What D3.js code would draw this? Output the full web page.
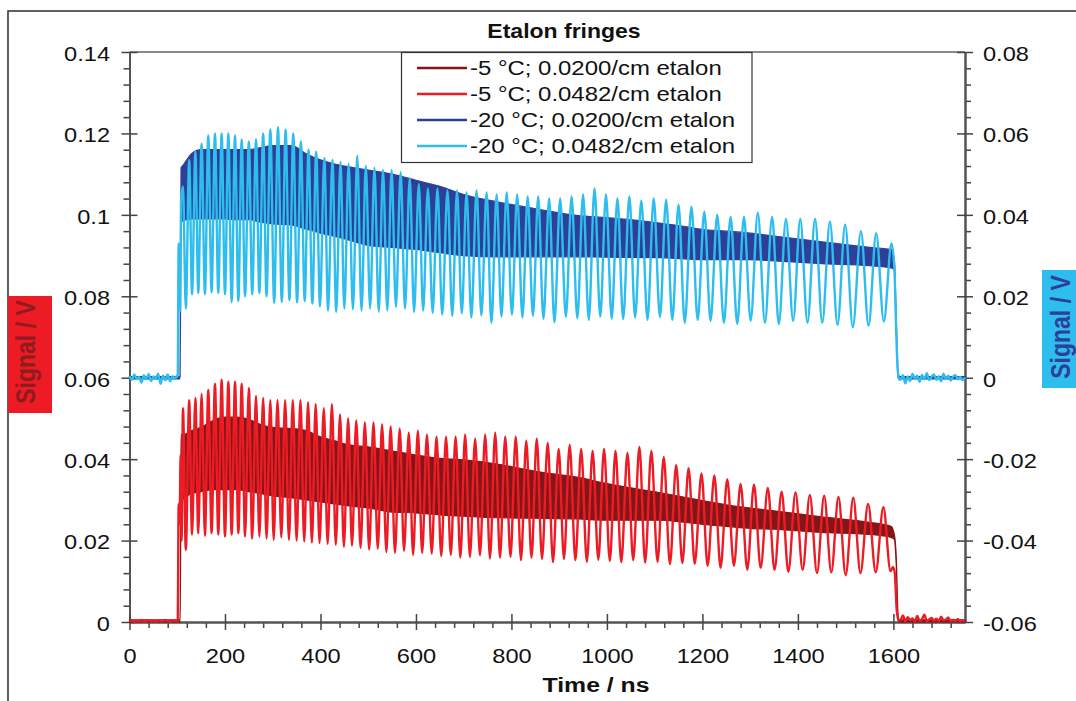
<!DOCTYPE html>
<html>
<head>
<meta charset="utf-8">
<title>Etalon fringes</title>
<script src="https://cdn.jsdelivr.net/npm/d3@7"></script>
<style>
  body { margin: 0; background: #fff; }
  svg { display: block; font-family: "Liberation Sans", Arial, sans-serif; }
</style>
</head>
<body>
<div id="chart"></div>
<script>
// ---------------------------------------------------------------------------
// data, all signals in mV (red series on the left axis, blue on the right)
// ---------------------------------------------------------------------------

// baseline before the pulse and after it
var tPre  = [0,5,10,15,20,25,30,35,40,45,50,55,60,65,70,75,80,85,90,95,100]
var tPost = [1615,1620,1625,1630,1635,1640,1645,1650,1655,1660,1665,1670,1675,1680,
             1685,1690,1695,1700,1705,1710,1715,1720,1725,1730,1735,1740,1745,1750]
var lightBluePre  = [0.4,-0.5,0.8,-0.3,0.2,-1.2,0.6,-0.4,0.9,-0.8,0.3,-0.2,1,-1.5,0.5,-0.6,0.8,-0.9,0.4,-0.3,0.6]
var lightRedPre   = [0.2,0.4,0.1,0.3,0.2,0.5,0.1,0.3,0.4,0.2,0.3,0.1,0.4,0.2,0.3,0.5,0.2,0.1,0.4,0.3,0.2]
var lightBluePost = [-0.5,0.6,-1.4,0.3,-0.8,0.9,-0.2,0.5,-1,0.7,-0.4,1.1,-0.6,0.2,0.8,-0.5,0.4,-0.9,1,-0.3,
                     0.5,-0.7,0.3,0.6,-0.4,0.2,-0.6,0.1]
var lightRedPost  = [0.5,1.6,0.2,1.2,0.4,0.9,0.1,1.5,0.3,0.7,1.8,0.2,0.6,1,0.3,0.8,0.2,1.3,0.4,0.6,
                     1.1,0.2,0.5,0.3,0.7,0.2,0.4,0.1]

// leading and trailing edges of the 0.0482/cm traces
var tRiseBlue = [101,103,106,108],        lightBlueRise = [0.3,33,16.5,43.5]
var tFallBlue = [1602,1606,1609,1612],    lightBlueFall = [27,11,2,-0.3]
var tRiseRed  = [101,103,105,107,109],    lightRedRise  = [0.3,29,24,41,20]
var tFallRed  = [1594,1599,1603,1607,1611], lightRedFall = [12.5,13.5,12,3,0.4]

// fringe maxima / minima of the -20 °C, 0.0482/cm trace
var tPeakBlue = [112,125,138,151,165,179,193,207,221,235,250,265,280,295,311,327,343,359,375,391,
  408,425,442,459,477,495,513,531,549,568,587,606,625,645,666,686,706,727,748,769,
  790,812,834,856,879,902,926,950,974,998,1022,1047,1072,1098,1124,1150,1177,1204,1231,1259,
  1287,1316,1346,1375,1405,1436,1467,1499,1532,1564,1596]
var tTroughBlue = [118,131,144,158,172,186,200,214,228,242,257,272,287,303,319,335,351,367,383,399,
  416,433,450,468,486,504,522,540,558,577,596,615,635,655,676,696,716,737,758,779,
  801,823,845,867,890,914,938,962,986,1010,1034,1059,1085,1111,1137,1163,1190,1217,1245,1273,
  1301,1331,1360,1390,1420,1451,1483,1515,1548,1580]
var lightBluePeaks = [47,53.5,55.5,57.5,59.5,60,60,60,59.5,58.5,58,58.5,60,61,61.5,61,60,58,56,55.5,
  54,53.5,53,52.5,54.5,52,51.5,51,51,50.5,49,47.5,46.5,46.5,46,46,45.5,46,45.5,45,
  45.5,45,44.5,44.5,44,44,44.5,45,46.5,45,44,44.5,43.5,44,43.7,42.5,42,40.8,40,39.5,
  39.5,40.5,39.5,39,39,39,38.3,37.6,36,35.5,33]
var lightBlueTroughs = [17,20.5,20.8,20.5,21,20.8,20.5,18.6,18.8,20,20.5,20.8,20,18.4,18.6,19,18.5,18.8,18.2,17.5,
  16.5,16.2,17,16.8,16.5,17,16.2,16.5,17.4,17,16.2,16.5,15.9,15.5,15.2,15.8,14.8,15.3,13.5,15,
  15.5,14.8,15.2,14.5,13.6,15,14.6,14.2,15,14.5,14.4,14.8,14.2,14.9,14.2,13.5,14.2,14,13.5,13.2,
  14,13.5,13.2,14,13.5,13.5,13,12.4,12.8,13.8]

// fringe maxima / minima of the -5 °C, 0.0482/cm trace
var tPeakRed = [112,125,138,151,165,179,193,207,221,235,250,265,280,295,310,326,342,358,374,390,
  407,424,441,458,475,493,511,529,547,566,585,604,623,643,663,683,703,724,745,766,
  787,809,831,853,876,899,922,946,970,994,1018,1043,1068,1093,1119,1145,1171,1198,1225,1252,
  1280,1308,1337,1366,1395,1425,1455,1485,1516,1547,1579]
var tTroughRed = [118,131,144,158,172,186,200,214,228,242,257,272,287,302,318,334,350,366,382,398,
  415,432,449,466,484,502,520,538,556,575,594,613,633,653,673,693,713,734,755,776,
  798,820,842,864,887,910,934,958,982,1006,1030,1055,1080,1106,1132,1158,1184,1211,1238,1266,
  1294,1322,1351,1380,1410,1440,1470,1500,1531,1563]
var lightRedPeaks = [52.5,54.5,55,56,57,58.5,59.5,59,59,58.5,57.5,55.5,55,54.5,54.5,54.5,54.5,54.5,54,53.5,
  52.5,53.5,51,50,49.5,49,49,48.5,48,47.5,46.5,47,46,45.5,45.5,45.5,46,45,46,46.5,
  45.5,45.5,44.5,45,44,42.5,43.5,42.5,42,42.5,42,41.5,43,42,40.5,38.5,37.8,36.5,36,35.1,
  33.9,33.8,32.9,32,31.8,31.2,31,30.7,30.5,29,28.2]
var lightRedTroughs = [17.7,21.5,21.8,21.2,21.8,21.5,21,21.5,21.8,21,20.5,21,20.5,20.2,20.8,20.2,20,19.8,19.5,19.4,
  19.2,19,18.5,18.8,18.2,17.8,18,17.2,17,17.5,16.5,17,16.8,16.2,16.5,15.8,16,16.4,15.6,15.8,
  16,15.2,15.8,15.5,14.7,15.5,15.2,14.8,15.3,15,14.7,15.2,14.6,14.8,14.2,14.5,14.3,13.8,13.3,13.8,
  12.8,13.3,12.8,12.3,12.8,12,12.2,11.5,12,12.2]

// 0.0200/cm traces: fringes too fine to resolve, kept as upper / lower envelope
var tEnv = [0,106,108,111,130,150,175,200,225,250,275,300,340,370,400,430,460,500,550,600,
  650,700,770,850,940,1000,1110,1160,1200,1250,1300,1350,1450,1550,1595,1602,1606,1610,1613,1750]
var darkRedUpper = [0.5,0.5,46,46,47,47.8,49.5,50.3,50.3,49.8,48.5,47.8,47.5,47,45.5,44.5,43.5,43,42,41,
  40.2,39.8,38.8,37,35.5,34,31.8,30.7,29.8,28.8,28,27.3,25.8,24.5,23.5,21.5,16,1.5,0.5,0.5]
var darkRedLower = [0,0,29,30,31.5,32,32.5,32.5,32.5,32,31.5,31,30.5,30,29.5,29,28.5,28,27,26.8,
  26.3,26,25.6,25.5,25.3,25,25,24.5,24,23.5,23,22.8,22,21.5,20.8,20.3,14,0.3,0,0]
var darkBlueUpper = [0.3,0.3,51.6,52,55,56,56,56,56,56,56.5,57,57,55,53.5,52.5,51.8,51,50,48.5,
  47,45,43.2,41.5,39.8,39.3,38,37.2,36.4,36,35.5,34.8,33.4,32,31.5,29,15,1,0.3,0.3]
var darkBlueLower = [-0.3,-0.3,38,38.5,39,39,39,39,38.8,38.8,38.2,37.8,37.5,36.5,35.5,34.7,33.8,32.5,32,31.5,
  30.7,30,29.7,29.7,29.7,29.6,29.5,29.2,29,29,29,28.7,28,27.5,27,26.5,12,0,-0.3,-0.3]

// axes
var xTicks = [0,200,400,600,800,1000,1200,1400,1600]
var xLabels = ['0','200','400','600','800','1000','1200','1400','1600']
var yLeftTicks = [0,0.02,0.04,0.06,0.08,0.1,0.12,0.14]
var yLeftLabels = ['0','0.02','0.04','0.06','0.08','0.1','0.12','0.14']
var yRightTicks = [-0.06,-0.04,-0.02,0,0.02,0.04,0.06,0.08]
var yRightLabels = ['-0.06','-0.04','-0.02','0','0.02','0.04','0.06','0.08']

var legendLabels = ['-5 °C; 0.0200/cm etalon','-5 °C; 0.0482/cm etalon',
                    '-20 °C; 0.0200/cm etalon','-20 °C; 0.0482/cm etalon']
var colors = ['#821618','#ed1c24','#2e3f97','#2dbdee']

// ---------------------------------------------------------------------------
var W = 1076, H = 701
var SX = 1.18   // reference text is drawn a bit wide

var x  = d3.scaleLinear().domain([0, 1750]).range([129.5, 965])
var yL = d3.scaleLinear().domain([0, 0.14]).range([622, 52])
var yR = d3.scaleLinear().domain([-0.06, 0.08]).range([622, 52])

var svg = d3.select('#chart').append('svg')
  .attr('width', W).attr('height', H)

svg.append('rect').attr('width', W).attr('height', H).attr('fill', '#fff')

//outer frame, cut off at right and bottom
svg.append('rect')
  .attr('x', 8).attr('y', 11).attr('width', 1200).attr('height', 900)
  .attr('fill', 'none').attr('stroke', '#3a3a3a').attr('stroke-width', 1.6)

//top edge of the plot box
svg.append('line')
  .attr('x1', 129.5).attr('x2', 965).attr('y1', 52).attr('y2', 52)
  .attr('stroke', '#8a8a8a').attr('stroke-width', 2)

function wideText(g, tx, ty, str, size, weight, anchor){
  return g.append('text')
    .attr('transform', 'translate(' + tx + ',' + ty + ') scale(' + SX + ',1)')
    .attr('text-anchor', anchor || 'start')
    .attr('font-size', size)
    .attr('font-weight', weight || 'normal')
    .attr('fill', '#111')
    .text(str)
}

function styleAxis(g){
  g.attr('font-family', null).attr('font-size', null)
  g.select('.domain').attr('stroke', '#555').attr('stroke-width', 2)
  g.selectAll('.tick line').attr('stroke', '#444').attr('stroke-width', 1.5)
  g.selectAll('.tick text').attr('font-size', 20).attr('fill', '#111')
}

function isMinor(v, step){
  var r = v / step
  return Math.abs(r - Math.round(r)) > 1e-6
}

//minor ticks
var minorL = d3.range(0.004, 0.14, 0.004).filter(function(v){ return isMinor(v, 0.02) })
var minorR = d3.range(-0.056, 0.08, 0.004).filter(function(v){ return isMinor(v, 0.02) })
var minorX = d3.range(40, 1750, 40).filter(function(v){ return isMinor(v, 200) })

svg.append('g').attr('transform', 'translate(129.5,0)')
  .call(d3.axisLeft(yL).tickValues(minorL).tickSize(6).tickSizeOuter(0).tickFormat(''))
  .call(styleAxis)
svg.append('g').attr('transform', 'translate(965,0)')
  .call(d3.axisRight(yR).tickValues(minorR).tickSize(6).tickSizeOuter(0).tickFormat(''))
  .call(styleAxis)
svg.append('g').attr('transform', 'translate(0,622)')
  .call(d3.axisBottom(x).tickValues(minorX).tickSize(6).tickSizeOuter(0).tickFormat(''))
  .call(styleAxis)

//major ticks, crossing the axis line
var gL = svg.append('g').attr('transform', 'translate(129.5,0)')
  .call(d3.axisLeft(yL).tickValues(yLeftTicks).tickSize(8).tickSizeOuter(0)
    .tickFormat(function(d, i){ return yLeftLabels[i] }))
  .call(styleAxis)
gL.selectAll('.tick line').attr('x1', 8)
gL.selectAll('.tick text').attr('x', null).attr('dy', '0.42em')
  .attr('transform', 'translate(-19.5,0) scale(' + SX + ',1)')

var gR = svg.append('g').attr('transform', 'translate(965,0)')
  .call(d3.axisRight(yR).tickValues(yRightTicks).tickSize(8).tickSizeOuter(0)
    .tickFormat(function(d, i){ return yRightLabels[i] }))
  .call(styleAxis)
gR.selectAll('.tick line').attr('x1', -8)
gR.selectAll('.tick text').attr('x', null).attr('dy', '0.42em')
  .attr('transform', 'translate(18,0) scale(' + SX + ',1)')

var gB = svg.append('g').attr('transform', 'translate(0,622)')
  .call(d3.axisBottom(x).tickValues(xTicks).tickSize(8).tickSizeOuter(0)
    .tickFormat(function(d, i){ return xLabels[i] }))
  .call(styleAxis)
gB.selectAll('.tick line').attr('y1', -8)
gB.selectAll('.tick text').attr('y', null).attr('dy', null)
  .attr('transform', 'translate(0,41) scale(' + SX + ',1)')

// ---------------------------------------------------------------------------
// series
function zip(ts, vs){
  return ts.map(function(t, i){ return {t: t, v: vs[i] / 1000} })
}
function trace(parts){
  var pts = []
  parts.forEach(function(p){ pts = pts.concat(zip(p[0], p[1])) })
  return pts.sort(function(a, b){ return a.t - b.t })
}
function band(ts, lo, hi){
  return ts.map(function(t, i){ return {t: t, lo: lo[i] / 1000, hi: hi[i] / 1000} })
}

var lightRed = trace([[tPre, lightRedPre], [tRiseRed, lightRedRise], [tPeakRed, lightRedPeaks],
  [tTroughRed, lightRedTroughs], [tFallRed, lightRedFall], [tPost, lightRedPost]])
var lightBlue = trace([[tPre, lightBluePre], [tRiseBlue, lightBlueRise], [tPeakBlue, lightBluePeaks],
  [tTroughBlue, lightBlueTroughs], [tFallBlue, lightBlueFall], [tPost, lightBluePost]])
var darkRed = band(tEnv, darkRedLower, darkRedUpper)
var darkBlue = band(tEnv, darkBlueLower, darkBlueUpper)

function areaOn(y){
  return d3.area().x(function(d){ return x(d.t) })
    .y0(function(d){ return y(d.lo) }).y1(function(d){ return y(d.hi) })
    .curve(d3.curveMonotoneX)
}
function lineOn(y){
  return d3.line().x(function(d){ return x(d.t) })
    .y(function(d){ return y(d.v) })
    .curve(d3.curveMonotoneX)
}

var plot = svg.append('g').attr('class', 'plot')
plot.append('path').datum(darkRed).attr('d', areaOn(yL))
  .attr('fill', colors[0]).attr('stroke', colors[0]).attr('stroke-width', 1.2)
plot.append('path').datum(lightRed).attr('d', lineOn(yL))
  .attr('fill', 'none').attr('stroke', colors[1]).attr('stroke-width', 2.4)
  .attr('stroke-linejoin', 'round')
plot.append('path').datum(darkBlue).attr('d', areaOn(yR))
  .attr('fill', colors[2]).attr('stroke', colors[2]).attr('stroke-width', 1.2)
plot.append('path').datum(lightBlue).attr('d', lineOn(yR))
  .attr('fill', 'none').attr('stroke', colors[3]).attr('stroke-width', 2.4)
  .attr('stroke-linejoin', 'round')

// ---------------------------------------------------------------------------
// titles
wideText(svg, 564, 38, 'Etalon fringes', 19.5, 'bold', 'middle')
wideText(svg, 596, 692, 'Time / ns', 21, 'bold', 'middle')

//axis titles on coloured boxes
svg.append('rect').attr('x', 8).attr('y', 296).attr('width', 44).attr('height', 117)
  .attr('fill', colors[1])
svg.append('text')
  .attr('transform', 'translate(35,352) scale(' + SX + ',1) rotate(-90)')
  .attr('text-anchor', 'middle').attr('font-size', 23).attr('font-weight', 'bold')
  .attr('fill', '#8e1b1d').text('Signal / V')

svg.append('rect').attr('x', 1042).attr('y', 270).attr('width', 50).attr('height', 118)
  .attr('fill', colors[3])
svg.append('text')
  .attr('transform', 'translate(1070,327) scale(' + SX + ',1) rotate(-90)')
  .attr('text-anchor', 'middle').attr('font-size', 23).attr('font-weight', 'bold')
  .attr('fill', '#2e4096').text('Signal / V')

// legend
var leg = svg.append('g').attr('class', 'legend')
leg.append('rect')
  .attr('x', 401.5).attr('y', 52.5).attr('width', 350.5).attr('height', 110)
  .attr('fill', '#fff').attr('stroke', '#333').attr('stroke-width', 1.2)
legendLabels.forEach(function(lbl, i){
  var ly = 68 + i * 26
  leg.append('line')
    .attr('x1', 417).attr('x2', 467).attr('y1', ly).attr('y2', ly)
    .attr('stroke', colors[i]).attr('stroke-width', 2.5)
  wideText(leg, 470, ly, lbl, 20.3).attr('dy', '0.36em')
})
</script>
</body>
</html>
